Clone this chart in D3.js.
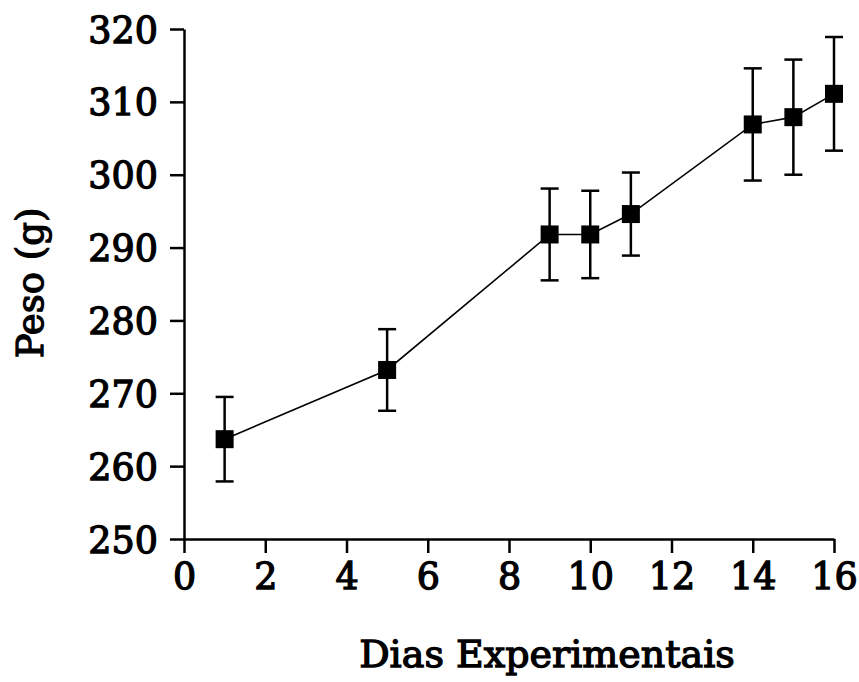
<!DOCTYPE html>
<html><head><meta charset="utf-8">
<script src="https://cdn.jsdelivr.net/npm/d3@7"></script>
<style>body{margin:0;background:#fff}svg{display:block}</style>
</head><body>
<script>
const days = [1, 5, 9, 10, 11, 14, 15, 16];
const peso = [263.7, 273.2, 291.8, 291.8, 294.6, 306.9, 307.9, 311.1];
const erro = [5.8, 5.6, 6.3, 6.0, 5.7, 7.7, 7.9, 7.8];
const xTicks = [0, 2, 4, 6, 8, 10, 12, 14, 16];
const yTicks = [250, 260, 270, 280, 290, 300, 310, 320];
const xLabel = "Dias Experimentais";
const yLabel = "Peso (g)";

const W = 859, H = 682;
const svg = d3.select("body").append("svg").attr("width", W).attr("height", H);
const x = d3.scaleLinear().domain([0, 16]).range([184, 834]);
const y = d3.scaleLinear().domain([250, 320]).range([539, 29]);
const font = "'DejaVu Serif', serif";

function styleText(sel, fs) {
  sel.attr("fill", "#000").attr("stroke", "#000").attr("stroke-width", 1.3)
    .style("font-family", font).style("font-weight", "normal").style("font-size", fs);
}

const xAxis = svg.append("g").attr("transform", `translate(0,${y(250)})`)
  .call(d3.axisBottom(x).tickValues(xTicks).tickSize(14).tickPadding(8).tickSizeOuter(0));
const yAxis = svg.append("g").attr("transform", `translate(${x(0)},0)`)
  .call(d3.axisLeft(y).tickValues(yTicks).tickSize(14).tickPadding(12).tickSizeOuter(0));
[xAxis, yAxis].forEach(a => {
  a.select(".domain").attr("stroke", "#000").attr("stroke-width", 2.5);
  a.selectAll(".tick line").attr("stroke", "#000").attr("stroke-width", 2.5);
  styleText(a.selectAll(".tick text"), "36.5px");
});
xAxis.selectAll(".tick text").attr("dy", "0.76em");
yAxis.selectAll(".tick text").attr("dy", "0.36em");

// line
svg.append("path").datum(days.map((d, i) => [d, peso[i]]))
  .attr("fill", "none").attr("stroke", "#000").attr("stroke-width", 1.6)
  .attr("d", d3.line().x(d => x(d[0])).y(d => y(d[1])));

// error bars
const cap = 9;
const eb = svg.append("g").attr("stroke", "#000").attr("stroke-width", 2.5);
days.forEach((d, i) => {
  const cx = x(d), t = y(peso[i] + erro[i]), b = y(peso[i] - erro[i]);
  eb.append("line").attr("x1", cx).attr("x2", cx).attr("y1", t).attr("y2", b);
  eb.append("line").attr("x1", cx - cap).attr("x2", cx + cap).attr("y1", t).attr("y2", t);
  eb.append("line").attr("x1", cx - cap).attr("x2", cx + cap).attr("y1", b).attr("y2", b);
});

// markers
const s = 18;
svg.append("g").selectAll("rect").data(days).join("rect")
  .attr("x", (d) => x(d) - s / 2).attr("y", (d, i) => y(peso[i]) - s / 2)
  .attr("width", s).attr("height", s).attr("fill", "#000");

styleText(svg.append("text").attr("x", 547).attr("y", 667).attr("text-anchor", "middle").text(xLabel), "38px");
styleText(svg.append("text").attr("transform", "translate(43,283) rotate(-90)").attr("text-anchor", "middle").text(yLabel), "37px");
</script>
</body></html>
